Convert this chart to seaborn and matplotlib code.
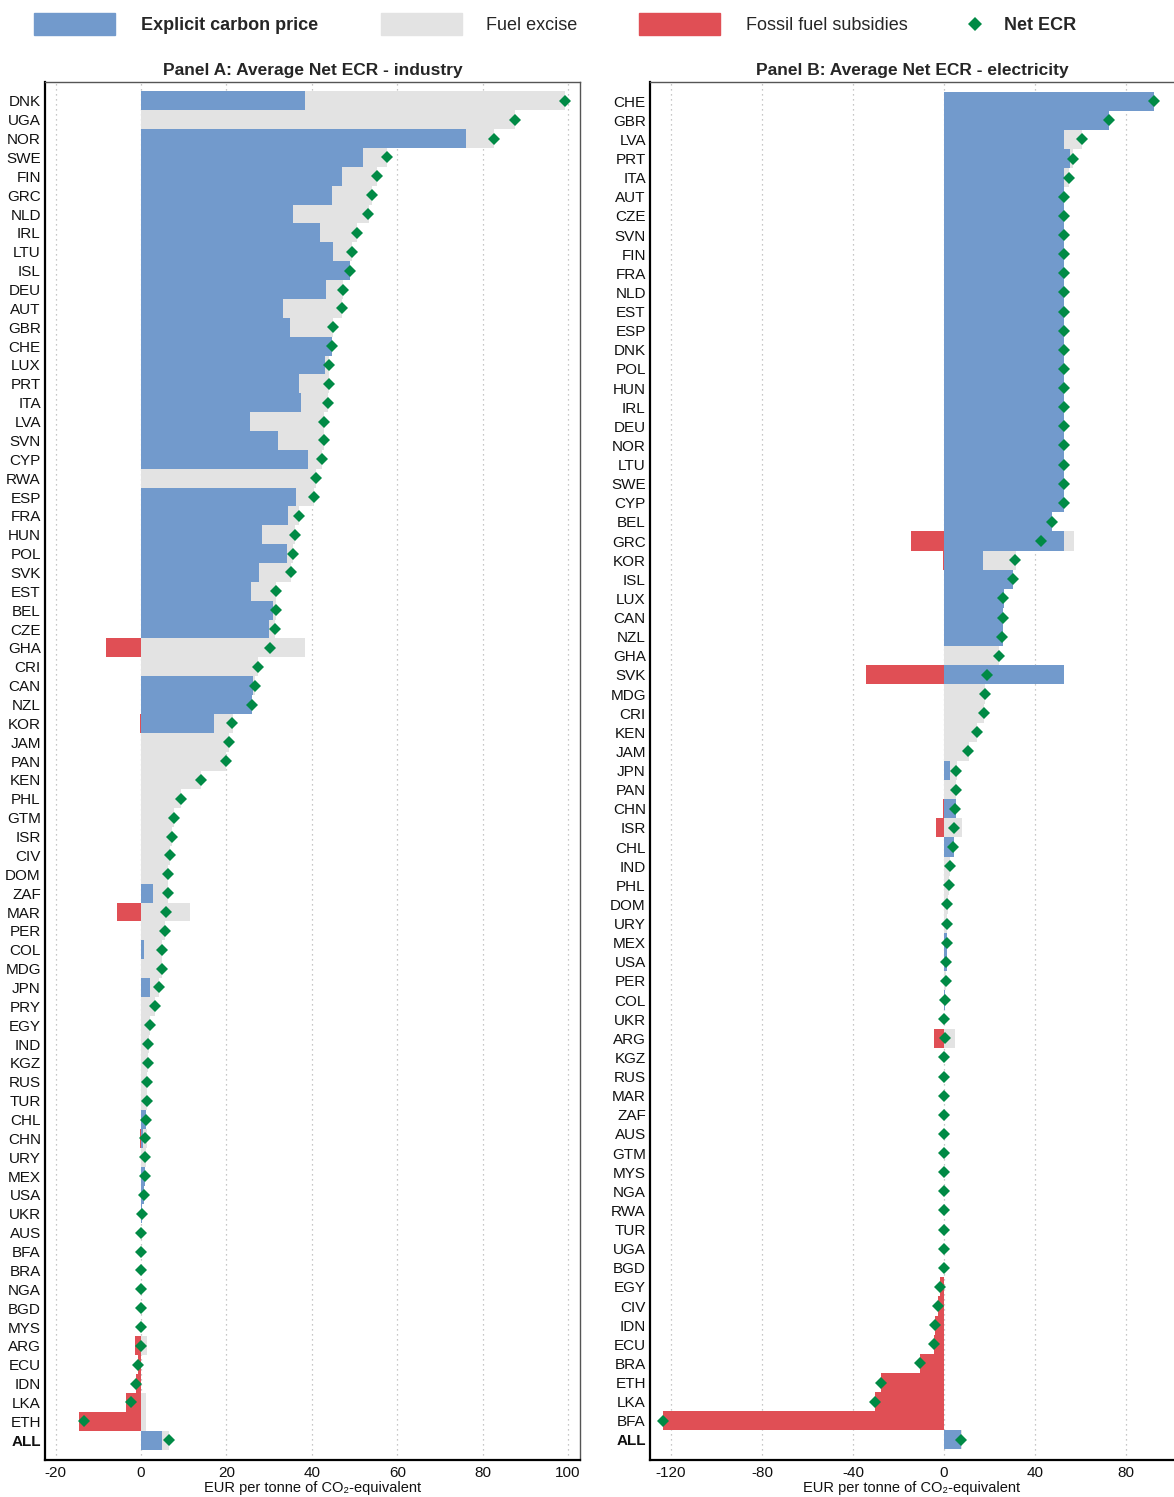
import pandas as pd
import matplotlib.pyplot as plt
import seaborn as sns
from matplotlib.patches import Rectangle
from matplotlib.lines import Line2D

# --- Panel A: industry ---
ind_countries = ['DNK', 'UGA', 'NOR', 'SWE', 'FIN', 'GRC', 'NLD', 'IRL', 'LTU', 'ISL',
                 'DEU', 'AUT', 'GBR', 'CHE', 'LUX', 'PRT', 'ITA', 'LVA', 'SVN', 'CYP',
                 'RWA', 'ESP', 'FRA', 'HUN', 'POL', 'SVK', 'EST', 'BEL', 'CZE', 'GHA',
                 'CRI', 'CAN', 'NZL', 'KOR', 'JAM', 'PAN', 'KEN', 'PHL', 'GTM', 'ISR',
                 'CIV', 'DOM', 'ZAF', 'MAR', 'PER', 'COL', 'MDG', 'JPN', 'PRY', 'EGY',
                 'IND', 'KGZ', 'RUS', 'TUR', 'CHL', 'CHN', 'URY', 'MEX', 'USA', 'UKR',
                 'AUS', 'BFA', 'BRA', 'NGA', 'BGD', 'MYS', 'ARG', 'ECU', 'IDN', 'LKA',
                 'ETH', 'ALL']
ind_carbon = [38.3, 0, 76.2, 52.0, 47.1, 44.6, 35.5, 42.0, 45.0, 48.9,
              43.4, 33.2, 34.8, 44.6, 43.1, 37.1, 37.5, 25.4, 32.0, 39.2,
              0, 36.4, 34.3, 28.4, 34.1, 27.7, 25.7, 31.0, 29.9, 0,
              0, 26.1, 25.9, 17.0, 0, 0, 0, 0, 0, 0,
              0, 0, 2.8, 0, 0, 0.7, 0, 2.1, 0, 0,
              0, 0, 0, 0, 1.2, 0.5, 0, 0.9, 0.6, 0.2,
              0, 0, 0, 0, 0, 0, 0, 0, 0, 0,
              0, 4.9]
ind_excise = [61.0, 87.6, 6.5, 5.5, 8.1, 9.4, 17.9, 8.6, 4.4, 0,
              3.9, 13.8, 10.2, 0, 0.8, 6.8, 6.2, 17.5, 10.9, 3.2,
              41.0, 4.1, 2.7, 7.7, 1.6, 7.3, 6.0, 0.7, 1.5, 38.5,
              27.5, 0.5, 0, 4.5, 20.5, 20.0, 14.0, 9.3, 7.7, 7.2,
              6.7, 6.4, 3.4, 11.5, 5.6, 4.3, 4.9, 2.1, 3.2, 2.1,
              1.8, 1.6, 1.5, 1.4, 0, 0.8, 1.1, 0.1, 0, 0,
              0, 0, 0, 0, 0, 0.1, 1.3, 0, 0, 1.2,
              1.2, 1.6]
ind_subsidy = [0, 0, 0, 0, 0, 0, 0, 0, 0, 0,
               0, 0, 0, 0, 0, 0, 0, 0, 0, 0,
               0, 0, 0, 0, 0, 0, 0, 0, 0, -8.2,
               0, 0, 0, -0.2, 0, 0, 0, 0, 0, 0,
               0, 0, 0, -5.6, 0, 0, 0, 0, 0, 0,
               -0.1, 0, 0, 0, 0, -0.3, 0, 0, 0, 0,
               0, 0, 0, 0, 0, -0.1, -1.4, -0.7, -1.2, -3.5,
               -14.5, 0]
ind_net = [99.3, 87.6, 82.7, 57.5, 55.2, 54.0, 53.2, 50.6, 49.4, 48.9,
           47.3, 47.0, 45.0, 44.6, 43.9, 43.9, 43.7, 42.9, 42.9, 42.4,
           41.0, 40.5, 37.0, 36.1, 35.7, 35.0, 31.7, 31.7, 31.4, 30.3,
           27.5, 26.6, 25.9, 21.3, 20.5, 19.9, 14.0, 9.3, 7.7, 7.2,
           6.7, 6.4, 6.2, 5.9, 5.6, 5.0, 4.9, 4.2, 3.2, 2.1,
           1.7, 1.6, 1.5, 1.4, 1.2, 1.0, 1.0, 1.0, 0.6, 0.2,
           0, 0, 0, 0, 0, 0, -0.1, -0.7, -1.2, -2.4,
           -13.3, 6.5]

# --- Panel B: electricity ---
ele_countries = ['CHE', 'GBR', 'LVA', 'PRT', 'ITA', 'AUT', 'CZE', 'SVN', 'FIN', 'FRA',
                 'NLD', 'EST', 'ESP', 'DNK', 'POL', 'HUN', 'IRL', 'DEU', 'NOR', 'LTU',
                 'SWE', 'CYP', 'BEL', 'GRC', 'KOR', 'ISL', 'LUX', 'CAN', 'NZL', 'GHA',
                 'SVK', 'MDG', 'CRI', 'KEN', 'JAM', 'JPN', 'PAN', 'CHN', 'ISR', 'CHL',
                 'IND', 'PHL', 'DOM', 'URY', 'MEX', 'USA', 'PER', 'COL', 'UKR', 'ARG',
                 'KGZ', 'RUS', 'MAR', 'ZAF', 'AUS', 'GTM', 'MYS', 'NGA', 'RWA', 'TUR',
                 'UGA', 'BGD', 'EGY', 'CIV', 'IDN', 'ECU', 'BRA', 'ETH', 'LKA', 'BFA',
                 'ALL']
ele_carbon = [92.5, 72.5, 52.8, 55.5, 52.8, 52.8, 52.8, 52.8, 52.8, 52.8,
              52.8, 52.8, 52.8, 52.8, 52.8, 52.8, 52.8, 52.8, 52.8, 52.8,
              52.8, 52.8, 47.5, 52.8, 17.1, 30.2, 26.2, 26.0, 25.9, 0,
              52.8, 0, 0, 0, 0, 2.7, 0, 5.3, 0, 4.5,
              0, 0, 0, 0, 1.3, 1.2, 0, 0.3, 0.2, 0,
              0, 0, 0, 0, 0, 0, 0, 0, 0, 0,
              0, 0, 0, 0, 0, 0, 0, 0, 0, 0,
              7.4]
ele_excise = [0, 0, 8.0, 1.3, 2.2, 0, 0, 0, 0, 0,
              0, 0, 0, 0, 0, 0, 0, 0, 0, 0,
              0, 0, 0, 4.5, 14.4, 0, 0, 0, 0, 24.2,
              0, 18.2, 17.4, 14.6, 10.9, 3.1, 5.3, 0, 8.0, 0,
              2.6, 2.0, 1.6, 1.4, 0, 0, 1.0, 0, 0, 4.8,
              0, 0, 0, 0, 0, 0, 0, 0, 0, 0,
              0, 0, 0, 0, 0, 0, 0, 0, 0, 0,
              0.4]
ele_subsidy = [0, 0, 0, 0, 0, 0, 0, 0, 0, 0,
               0, 0, 0, 0, 0, 0, 0, 0, 0, 0,
               0, 0, 0, -14.7, -0.3, 0, 0, 0, 0, 0,
               -34.1, 0, 0, 0, 0, 0, 0, -0.3, -3.4, 0,
               0, 0, 0, 0, 0, 0, 0, 0, 0, -4.3,
               0, 0, 0, 0, 0, 0, 0, 0, 0, 0,
               0, 0, -1.6, -2.6, -4.0, -4.3, -10.4, -27.8, -30.1, -123.5,
               0]
ele_net = [92.5, 72.5, 60.8, 56.8, 55.0, 52.8, 52.8, 52.8, 52.8, 52.8,
           52.8, 52.8, 52.8, 52.8, 52.8, 52.8, 52.8, 52.8, 52.8, 52.8,
           52.8, 52.8, 47.5, 42.6, 31.2, 30.2, 26.1, 25.9, 25.5, 24.0,
           18.7, 18.2, 17.4, 14.6, 10.7, 5.5, 5.3, 5.0, 4.4, 4.0,
           2.6, 2.0, 1.5, 1.4, 1.3, 1.1, 1.0, 0.3, 0.2, 0.4,
           0, 0, 0, 0, 0, 0, 0, 0, 0, 0,
           0, 0, -1.6, -2.6, -4.0, -4.3, -10.4, -27.8, -30.1, -123.5,
           7.7]

BLUE = '#729ACC'
GREY = '#E3E3E3'
RED = '#E04F55'
GREEN = '#008A45'

sns.set_theme(style='white')
plt.rcParams['font.family'] = ['Liberation Sans Narrow', 'Liberation Sans', 'DejaVu Sans']
plt.rcParams['axes.unicode_minus'] = False

W, H = 1174, 1497
fig = plt.figure(figsize=(W / 100, H / 100), dpi=100)


def px_axes(left, top, right, bottom):
    return fig.add_axes([left / W, 1 - bottom / H, (right - left) / W, (bottom - top) / H])


def draw_panel(ax, countries, carbon, excise, subsidy, net, xlim, ticks, title):
    df = pd.DataFrame({'country': countries, 'carbon': carbon, 'excise': excise,
                       'subsidy': subsidy, 'net': net})
    df['priced'] = df['carbon'] + df['excise']
    order = list(df['country'])
    for col, c in [('priced', GREY), ('carbon', BLUE), ('subsidy', RED)]:
        sns.barplot(data=df, x=col, y='country', order=order, orient='h', color=c,
                    width=1.0, saturation=1, errorbar=None, linewidth=0, ax=ax)
    sns.pointplot(data=df, x='net', y='country', order=order, orient='h', color=GREEN,
                  marker='D', linestyle='none', markersize=6, markeredgewidth=0,
                  errorbar=None, ax=ax)
    n = len(order)
    ax.set_xlim(*xlim)
    ax.set_ylim(n - 1 + 1.05, -1.0)
    ax.set_xticks(ticks)
    ax.set_axisbelow(True)
    ax.xaxis.grid(True, linestyle=(0, (1, 3)), color='#B5B5B5', linewidth=0.9)
    ax.yaxis.grid(False)
    ax.tick_params(axis='both', length=0, labelsize=11, colors='#111111')
    ax.tick_params(axis='y', pad=3)
    ax.tick_params(axis='x', pad=4)
    for lbl in ax.get_yticklabels():
        if lbl.get_text() == 'ALL':
            lbl.set_fontweight('bold')
    ax.set_ylabel('')
    ax.set_xlabel('EUR per tonne of CO\u2082-equivalent', fontsize=10.5, labelpad=1,
                  color='#111111')
    ax.set_title(title, fontsize=12.5, fontweight='bold', pad=5)
    for side in ['left', 'bottom']:
        ax.spines[side].set_color('black')
        ax.spines[side].set_linewidth(1.6)
    for side in ['top', 'right']:
        ax.spines[side].set_color('#555555')
        ax.spines[side].set_linewidth(1.0)


axA = px_axes(45, 82, 580, 1460)
draw_panel(axA, ind_countries, ind_carbon, ind_excise, ind_subsidy, ind_net,
           (-22.5, 102.8), [-20, 0, 20, 40, 60, 80, 100],
           'Panel A: Average Net ECR - industry')

axB = px_axes(650, 82, 1174, 1460)
draw_panel(axB, ele_countries, ele_carbon, ele_excise, ele_subsidy, ele_net,
           (-129.2, 101.1), [-120, -80, -40, 0, 40, 80],
           'Panel B: Average Net ECR - electricity')
axB.spines['right'].set_visible(False)

# legend across the top
legend_items = [(34, BLUE, 'Explicit carbon price', 'bold', 141),
                (381, GREY, 'Fuel excise', 'normal', 486),
                (639, RED, 'Fossil fuel subsidies', 'normal', 746)]
for x0, c, label, weight, tx in legend_items:
    fig.add_artist(Rectangle((x0 / W, 1 - 35 / H), 81 / W, 22 / H, color=c,
                             transform=fig.transFigure))
    fig.text(tx / W, 1 - 25.5 / H, label, fontsize=13, fontweight=weight, va='center')
fig.add_artist(Line2D([975 / W], [1 - 24 / H], marker='D', color=GREEN, markersize=7,
                      markeredgewidth=0, linestyle='none', transform=fig.transFigure))
fig.text(1004 / W, 1 - 25.5 / H, 'Net ECR', fontsize=13, fontweight='bold', va='center')

fig.savefig('out.png', dpi=100)
